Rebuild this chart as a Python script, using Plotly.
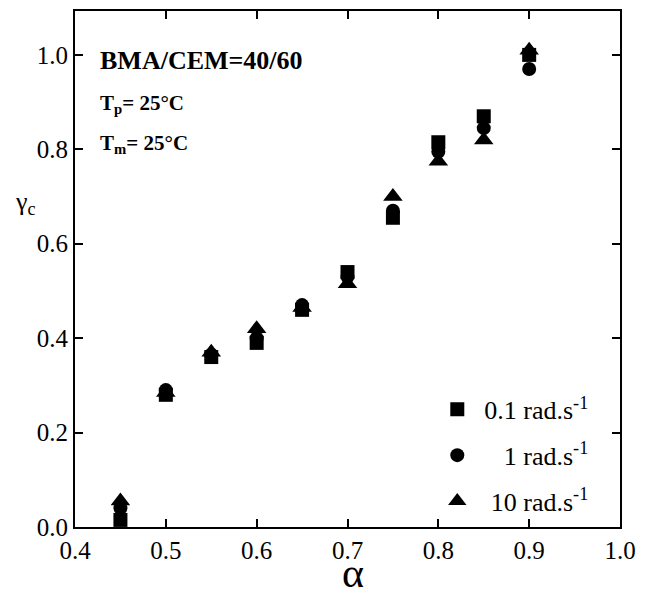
import plotly.graph_objects as go

alpha = [0.45, 0.5, 0.55, 0.6, 0.65, 0.7, 0.75, 0.8, 0.85, 0.9]
gamma_01 = [0.015, 0.28, 0.36, 0.39, 0.46, 0.54, 0.655, 0.815, 0.87, 1.0]
gamma_1 = [0.04, 0.29, 0.365, 0.40, 0.47, 0.53, 0.67, 0.795, 0.845, 0.97]
gamma_10 = [0.055, 0.285, 0.37, 0.42, 0.465, 0.515, 0.70, 0.775, 0.82, 1.01]

names = ["0.1 rad.s<sup>-1</sup>",
         "\u00a0\u00a0\u00a01 rad.s<sup>-1</sup>",
         "\u00a010 rad.s<sup>-1</sup>"]
symbols = ["square", "circle", "triangle-up"]
sizes = [14, 14, 17]
series = [gamma_01, gamma_1, gamma_10]

FONT = "Liberation Serif"

fig = go.Figure()
for i, (nm, sym, sz, ys) in enumerate(zip(names, symbols, sizes, series)):
    fig.add_trace(go.Scatter(
        x=alpha, y=ys, mode="markers", name=nm,
        legendgroup=f"g{i}",
        marker=dict(symbol=sym, size=sz, color="black", line=dict(width=0)),
    ))

axis_common = dict(
    showline=True, linecolor="black", linewidth=2, mirror="ticks",
    ticks="inside", ticklen=8, tickwidth=2, tickcolor="black",
    showgrid=False, zeroline=False,
    tickfont=dict(family=FONT, size=25, color="black"),
)

fig.update_xaxes(range=[0.4, 1.0], dtick=0.1, tickformat=".1f", **axis_common)
fig.update_yaxes(range=[0, 1.093], tickvals=[0, 0.2, 0.4, 0.6, 0.8, 1.0],
                 tickformat=".1f", **axis_common)

fig.update_layout(
    width=645, height=598,
    margin=dict(l=75, r=20, t=9, b=71),
    plot_bgcolor="white", paper_bgcolor="white",
    font=dict(family=FONT, color="black"),
    showlegend=True,
    legend=dict(
        x=0.951, y=0.004, xanchor="right", yanchor="bottom",
        font=dict(family=FONT, size=26, color="black"),
        bgcolor="rgba(0,0,0,0)", borderwidth=0,
        traceorder="grouped", tracegroupgap=9,
        itemwidth=44,
    ),
    annotations=[
        dict(text="<b>BMA/CEM=40/60</b>", xref="paper", yref="paper",
             x=0.042, y=0.905, xanchor="left", yanchor="middle",
             showarrow=False, font=dict(family=FONT, size=26)),
        dict(text="<b>T<sub>p</sub>= 25°C</b>", xref="paper", yref="paper",
             x=0.042, y=0.819, xanchor="left", yanchor="middle",
             showarrow=False, font=dict(family=FONT, size=21)),
        dict(text="<b>T<sub>m</sub>= 25°C</b>", xref="paper", yref="paper",
             x=0.042, y=0.743, xanchor="left", yanchor="middle",
             showarrow=False, font=dict(family=FONT, size=21)),
        dict(text="γ<sub>c</sub>", xref="paper", yref="paper",
             x=-0.091, y=0.627, xanchor="center", yanchor="middle",
             showarrow=False, font=dict(family=FONT, size=26)),
        dict(text="α", xref="paper", yref="paper",
             x=0.51, y=-0.136, xanchor="center", yanchor="bottom",
             showarrow=False, borderpad=0,
             font=dict(family=FONT, size=42)),
    ],
)

fig.write_html("out.html", config={"displayModeBar": False},
               post_script="document.body.style.margin='0px';")
